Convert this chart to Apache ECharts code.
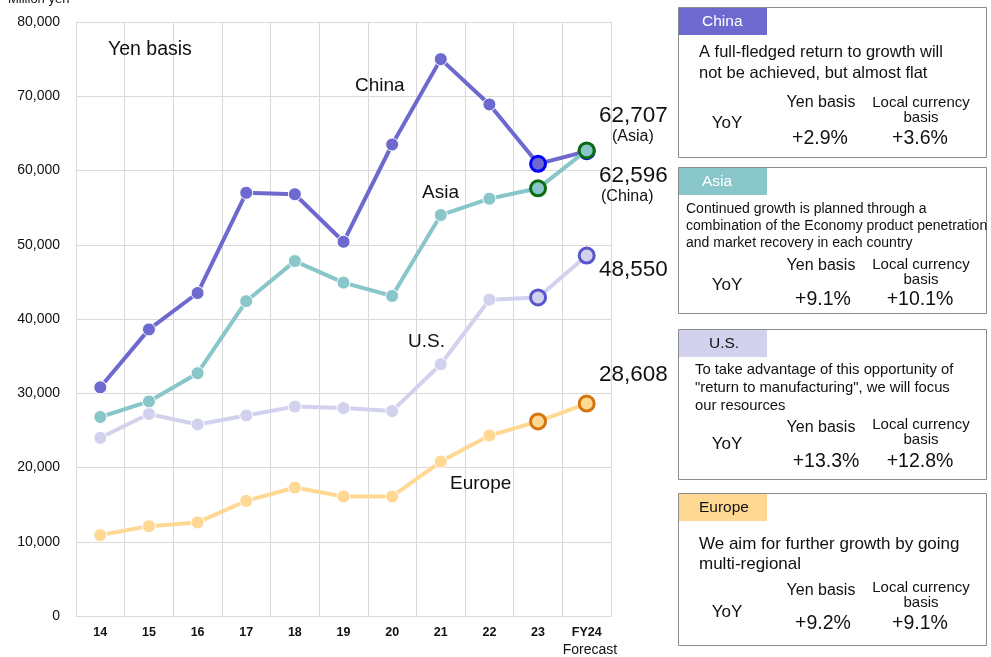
<!DOCTYPE html>
<html>
<head>
<meta charset="utf-8">
<script src="https://cdn.jsdelivr.net/npm/echarts@6/dist/echarts.min.js"></script>
<style>
  html, body { margin: 0; padding: 0; background: #fff; }
  #main { width: 991px; height: 657px; }
</style>
</head>
<body>
<div id="main"></div>
<script>
// categories (fiscal years)
var years = ['14', '15', '16', '17', '18', '19', '20', '21', '22', '23', 'FY24'];
// sales by region, million yen
var china  = [30800, 38600, 43500, 57000, 56800, 50400, 63500, 75000, 68900, 60900, 62596];
var asia   = [26800, 28900, 32700, 42400, 47800, 44900, 43100, 54000, 56200, 57600, 62707];
var us     = [24000, 27200, 25800, 27000, 28200, 28000, 27600, 33900, 42600, 42900, 48550];
var europe = [10900, 12100, 12600, 15500, 17300, 16100, 16100, 20800, 24300, 26200, 28608];
var yTicks = [0, 10000, 20000, 30000, 40000, 50000, 60000, 70000, 80000];

var FONT = '"Liberation Sans", Arial, sans-serif';
var fmt = function (v) { return v.toLocaleString('en-US'); };

// colours
var cChina = '#6d69cf', cAsia = '#88c6ca', cUS = '#d2d2ef', cEurope = '#ffd894';

function pts(data, color, ringColor) {
  return data.map(function (v, i) {
    if (i >= data.length - 2 && ringColor) {
      return { value: v, itemStyle: { color: color, borderColor: ringColor, borderWidth: 3 }, symbolSize: 15 };
    }
    return v;
  });
}

function line(name, data, color, ring, z) {
  return {
    name: name, type: 'line', z: z,
    data: pts(data, color, ring),
    symbol: 'circle', symbolSize: 13,
    lineStyle: { color: color, width: 4 },
    itemStyle: { color: color, borderColor: '#ffffff', borderWidth: 1 },
    emphasis: { disabled: true },
    animation: false
  };
}

// right-hand comment boxes
var panels = [
  { y: 7, h: 150, title: 'China', head: cChina, headText: '#ffffff',
    body: ['A full-fledged return to growth will', 'not be achieved, but almost flat'], bodySize: 16.5, bodyX: 699, bodyY: 52, bodyGap: 21,
    yen: '+2.9%', local: '+3.6%', yenY: 103, locY: 103, yoyY: 123, valY: 139, yenValX: 820 },
  { y: 167, h: 146, title: 'Asia', head: cAsia, headText: '#ffffff',
    body: ['Continued growth is planned through a', 'combination of the Economy product penetration', 'and market recovery in each country'], bodySize: 14, bodyX: 686, bodyY: 209, bodyGap: 17,
    yen: '+9.1%', local: '+10.1%', yenY: 266, locY: 265, yoyY: 285, valY: 300, yenValX: 823 },
  { y: 329, h: 150, title: 'U.S.', head: cUS, headText: '#111111',
    body: ['To take advantage of this opportunity of', '"return to manufacturing", we will focus', 'our resources'], bodySize: 14.8, bodyX: 695, bodyY: 370, bodyGap: 18,
    yen: '+13.3%', local: '+12.8%', yenY: 428, locY: 425, yoyY: 444, valY: 462, yenValX: 826 },
  { y: 493, h: 152, title: 'Europe', head: cEurope, headText: '#111111',
    body: ['We aim for further growth by going', 'multi-regional'], bodySize: 17, bodyX: 699, bodyY: 544, bodyGap: 20,
    yen: '+9.2%', local: '+9.1%', yenY: 591, locY: 588, yoyY: 612, valY: 624, yenValX: 823 }
];

function txt(x, y, s, size, opts) {
  opts = opts || {};
  return {
    type: 'text', x: x, y: y, z: 100,
    style: {
      text: s, fill: opts.fill || '#111111', font: (opts.weight || 'normal') + ' ' + size + 'px ' + FONT,
      textAlign: opts.align || 'left', textVerticalAlign: 'middle'
    }
  };
}

var graphics = [];
panels.forEach(function (p) {
  graphics.push({ type: 'rect', shape: { x: 678.5, y: p.y + 0.5, width: 308, height: p.h }, style: { fill: '#ffffff', stroke: '#8c8c8c', lineWidth: 1 }, z: 90 });
  graphics.push({ type: 'rect', shape: { x: 679, y: p.y + 1, width: 88, height: 27 }, style: { fill: p.head }, z: 95 });
  graphics.push(txt(p.title === 'Europe' ? 699 : (p.title === 'U.S.' ? 709 : 702), p.y + 15, p.title, 15.5, { fill: p.headText }));
  p.body.forEach(function (s, i) {
    graphics.push(txt(p.bodyX, p.bodyY + i * p.bodyGap, s, p.bodySize));
  });
  graphics.push(txt(727, p.yoyY, 'YoY', 17, { align: 'center' }));
  graphics.push(txt(821, p.yenY, 'Yen basis', 16, { align: 'center' }));
  graphics.push(txt(921, p.locY, 'Local currency', 15, { align: 'center' }));
  graphics.push(txt(921, p.locY + 15, 'basis', 15, { align: 'center' }));
  graphics.push(txt(p.yenValX, p.valY, p.yen, 19.5, { align: 'center' }));
  graphics.push(txt(920, p.valY, p.local, 19.5, { align: 'center' }));
});

// chart annotations
var last = years.length - 1;
graphics.push(txt(8, -1, 'Million yen', 13));
graphics.push(txt(108, 50, 'Yen basis', 19.5));
graphics.push(txt(355, 86, 'China', 19));
graphics.push(txt(422, 193, 'Asia', 19));
graphics.push(txt(408, 342, 'U.S.', 19));
graphics.push(txt(450, 484, 'Europe', 19));
graphics.push(txt(599, 116, fmt(asia[last]), 22.5));
graphics.push(txt(612, 137, '(Asia)', 16));
graphics.push(txt(599, 176, fmt(china[last]), 22.5));
graphics.push(txt(601, 197, '(China)', 16));
graphics.push(txt(599, 270, fmt(us[last]), 22.5));
graphics.push(txt(599, 375, fmt(europe[last]), 22.5));
graphics.push(txt(590, 650, 'Forecast', 14, { align: 'center' }));

var myChart = echarts.init(document.getElementById('main'));
myChart.setOption({
  backgroundColor: '#ffffff',
  animation: false,
  grid: { left: 76, right: 380, top: 22, bottom: 41, containLabel: false },
  xAxis: {
    type: 'category', data: years, boundaryGap: true,
    axisLine: { show: true, lineStyle: { color: '#d9d9d9' } },
    axisTick: { show: false },
    splitLine: { show: true, interval: 0, lineStyle: { color: '#d9d9d9', width: 1 } },
    axisLabel: { interval: 0, margin: 10, color: '#111111', fontWeight: 'bold', fontSize: 12.5, fontFamily: FONT }
  },
  yAxis: {
    type: 'value', min: yTicks[0], max: yTicks[yTicks.length - 1], interval: yTicks[1] - yTicks[0],
    axisLine: { show: false }, axisTick: { show: false },
    splitLine: { lineStyle: { color: '#d9d9d9', width: 1 } },
    axisLabel: { margin: 16, color: '#111111', fontSize: 14, fontFamily: FONT, formatter: function (v) { return fmt(v); } }
  },
  series: [
    line('Europe', europe, cEurope, '#d4730f', 2),
    line('U.S.', us, cUS, '#5955cc', 3),
    line('China', china, cChina, '#0000ff', 4),
    line('Asia', asia, cAsia, '#0b6b12', 5)
  ],
  graphic: { elements: graphics }
});
</script>
</body>
</html>
